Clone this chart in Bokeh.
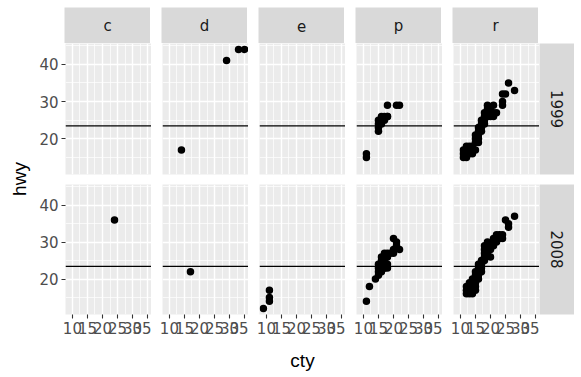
import math
from bokeh.plotting import figure
from bokeh.layouts import row, column
from bokeh.models import FixedTicker, Span, Label, Range1d
from bokeh.embed import file_html
from bokeh.resources import INLINE

# ---- data ----
fuel_types = ["c", "d", "e", "p", "r"]
years = ["1999", "2008"]
x_ticks = [10, 15, 20, 25, 30, 35]
x_minor = [12.5, 17.5, 22.5, 27.5, 32.5]
y_ticks = [20, 30, 40]
y_minor = [15, 25, 35, 45]
hwy_mean = 23.44
x_lim = (7.7, 36.3)
y_lim = (10.4, 45.6)

c_1999_cty = []
c_1999_hwy = []
c_2008_cty = [24]
c_2008_hwy = [36]

d_1999_cty = [14, 29, 33, 35]
d_1999_hwy = [17, 41, 44, 44]
d_2008_cty = [17]
d_2008_hwy = [22]

e_1999_cty = []
e_1999_hwy = []
e_2008_cty = [9, 11, 11, 11]
e_2008_hwy = [12, 17, 15, 14]

p_1999_cty = [11, 11, 15, 15, 15, 15, 16, 16, 17, 17, 18, 18, 16, 18, 21, 22]
p_1999_hwy = [15, 16, 22, 23, 24, 25, 25, 26, 25, 26, 26, 26, 24, 29, 29, 29]
p_2008_cty = [11, 12, 14, 15, 15, 15, 16, 16, 16, 17, 17, 17, 15, 16, 18, 18, 17,
              19, 20, 20, 21, 21, 22, 20, 17, 18, 18, 17, 16]
p_2008_hwy = [14, 18, 20, 21, 22, 23, 22, 23, 24, 23, 24, 25, 24, 25, 24, 23, 23,
              27, 28, 31, 29, 30, 28, 27, 26, 26, 27, 27, 26]

r_1999_cty = [11, 11, 11, 12, 12, 12, 13, 13, 13, 14, 14, 14, 15, 12,
              15, 15, 16, 16, 16, 16, 17, 17, 17, 16, 15,
              17, 18, 18, 18, 19, 19, 20, 20, 21, 21, 19, 20, 21, 19, 18, 22,
              24, 24, 24, 25, 26, 28]
r_1999_hwy = [15, 16, 17, 15, 16, 17, 16, 17, 18, 16, 17, 18, 17, 18,
              19, 20, 19, 20, 21, 22, 22, 23, 24, 23, 21,
              25, 24, 25, 26, 26, 27, 26, 27, 26, 27, 28, 28, 29, 29, 27, 27,
              29, 30, 32, 32, 35, 33]
r_2008_cty = [12, 12, 13, 13, 13, 14, 14, 14, 15, 15, 13, 12, 14, 15, 14,
              15, 15, 16, 16, 16, 16, 17, 17, 17, 15, 16,
              17, 18, 18, 18, 18, 18, 19, 19, 19,
              20, 20, 20, 21, 21, 22, 21, 22, 23, 22, 23, 24, 24, 19,
              25, 26, 26, 28]
r_2008_hwy = [16, 17, 16, 17, 18, 17, 18, 19, 18, 19, 19, 18, 20, 17, 16,
              20, 21, 20, 21, 22, 23, 22, 23, 24, 22, 24,
              25, 25, 26, 27, 28, 29, 27, 28, 29,
              26, 28, 29, 29, 30, 30, 31, 31, 31, 32, 32, 32, 31, 30,
              36, 35, 34, 37]

panel_data = {
    ("c", "1999"): (c_1999_cty, c_1999_hwy), ("c", "2008"): (c_2008_cty, c_2008_hwy),
    ("d", "1999"): (d_1999_cty, d_1999_hwy), ("d", "2008"): (d_2008_cty, d_2008_hwy),
    ("e", "1999"): (e_1999_cty, e_1999_hwy), ("e", "2008"): (e_2008_cty, e_2008_hwy),
    ("p", "1999"): (p_1999_cty, p_1999_hwy), ("p", "2008"): (p_2008_cty, p_2008_hwy),
    ("r", "1999"): (r_1999_cty, r_1999_hwy), ("r", "2008"): (r_2008_cty, r_2008_hwy),
}

# ---- styling ----
FONT = "Liberation Sans"
TICK_FONT = "DejaVu Sans"
PANEL_BG = "#EBEBEB"
STRIP_BG = "#D9D9D9"
PW = 86
GAP = 11
LEFT0 = 28
TOP0 = 7
STRIP_H = 36
ROW_H = [131, 130]
ROW_BOTTOM = [10, 62]
RSTRIP_W = 35
TICK_FS = "15px"


def make_panel(fl, yr, ci, ri):
    p = figure(frame_width=PW, frame_height=ROW_H[ri],
               min_border_left=LEFT0 if ci == 0 else GAP, min_border_right=0,
               min_border_top=0, min_border_bottom=ROW_BOTTOM[ri],
               x_range=Range1d(*x_lim), y_range=Range1d(*y_lim),
               output_backend="svg", toolbar_location=None,
               background_fill_color=PANEL_BG, border_fill_color="white",
               outline_line_color=None)
    xt = FixedTicker(ticks=x_ticks, minor_ticks=x_minor)
    yt = FixedTicker(ticks=y_ticks, minor_ticks=y_minor)
    p.xaxis.ticker = xt
    p.yaxis.ticker = yt
    p.xgrid.ticker = xt
    p.ygrid.ticker = yt
    for g in (p.xgrid, p.ygrid):
        g.grid_line_color = "white"
        g.grid_line_width = 1.4
        g.minor_grid_line_color = "white"
        g.minor_grid_line_width = 0.7
    for ax in (p.xaxis, p.yaxis):
        ax.axis_line_color = None
        ax.major_tick_in = 0
        ax.major_tick_out = 4
        ax.minor_tick_out = 0
        ax.minor_tick_in = 0
        ax.major_tick_line_color = "#333333"
        ax.major_tick_line_width = 1.1
        ax.major_label_text_font = TICK_FONT
        ax.major_label_text_font_size = TICK_FS
        ax.major_label_text_color = "#4D4D4D"
        ax.major_label_standoff = 3
    if ci != 0:
        p.yaxis.visible = False
    if ri == 0:
        p.xaxis.visible = False
    if ri == 1 and fl == "e":
        p.xaxis.axis_label = "cty"
        p.xaxis.axis_label_text_font = FONT
        p.xaxis.axis_label_text_font_size = "19px"
        p.xaxis.axis_label_text_font_style = "normal"
        p.xaxis.axis_label_text_color = "black"
        p.xaxis.axis_label_standoff = 13
    xs, ys = panel_data[(fl, yr)]
    if xs:
        p.scatter(xs, ys, size=7.5, marker="circle", fill_color="black",
                  line_color="black", line_width=0)
    p.add_layout(Span(location=hwy_mean, dimension="width",
                      line_color="black", line_width=1.3))
    return p


def blank_fig(fw, fh, left=0, bottom=0, top=0, bg="white"):
    f = figure(frame_width=fw, frame_height=fh, min_border_left=left,
               min_border_right=0, min_border_top=top, min_border_bottom=bottom,
               x_range=Range1d(0, 1), y_range=Range1d(0, 1),
               output_backend="svg", toolbar_location=None,
               background_fill_color=bg, border_fill_color="white",
               outline_line_color=None, x_axis_location=None, y_axis_location=None)
    f.grid.visible = False
    return f


# top strips
strip_figs = []
for ci, fl in enumerate(fuel_types):
    s = blank_fig(PW, STRIP_H, left=LEFT0 if ci == 0 else GAP, top=TOP0, bg=STRIP_BG)
    s.add_layout(Label(x=0.5, y=0.5, text=fl, text_align="center",
                       text_baseline="middle", text_font=TICK_FONT,
                       text_font_size=TICK_FS, text_color="#1A1A1A"))
    strip_figs.append(s)

rows = [row(*strip_figs)]
for ri, yr in enumerate(years):
    figs = [make_panel(fl, yr, ci, ri) for ci, fl in enumerate(fuel_types)]
    rs = blank_fig(RSTRIP_W, ROW_H[ri], bottom=ROW_BOTTOM[ri], bg=STRIP_BG)
    rs.add_layout(Label(x=0.5, y=0.5, text=yr, text_align="center",
                        text_baseline="middle", angle=-math.pi / 2,
                        text_font=TICK_FONT, text_font_size=TICK_FS,
                        text_color="#1A1A1A"))
    figs.append(rs)
    rows.append(row(*figs))

# y axis title
ylab = blank_fig(28, ROW_H[0] + ROW_BOTTOM[0] + ROW_H[1], left=8,
                 top=TOP0 + STRIP_H, bottom=ROW_BOTTOM[1])
ylab.add_layout(Label(x=0.4, y=0.5, text="hwy", text_align="center",
                      text_baseline="middle", angle=math.pi / 2,
                      text_font=FONT, text_font_size="19px", text_color="black"))

layout = row(ylab, column(*rows))

open("out.html", "w").write(file_html(layout, INLINE, title="mpg facets"))
